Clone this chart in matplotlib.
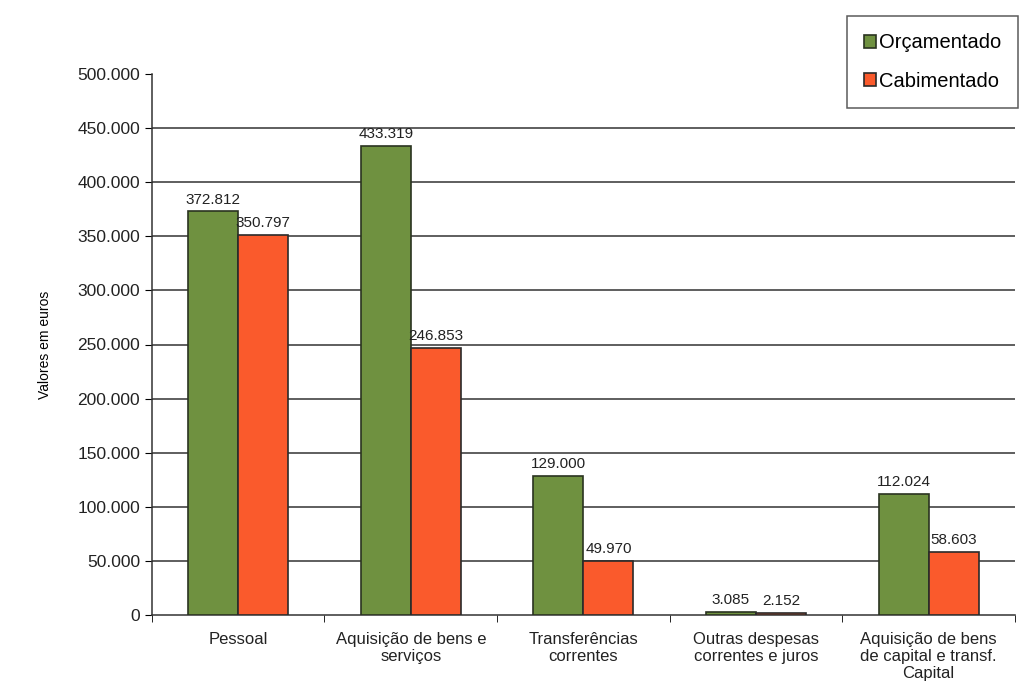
import matplotlib
matplotlib.use("Agg")
import matplotlib.pyplot as plt
import numpy as np

plt.rcParams['font.family'] = ['Liberation Sans', 'DejaVu Sans']

categorias = ['Pessoal', 'Aquisição de bens e\nserviços', 'Transferências\ncorrentes',
              'Outras despesas\ncorrentes e juros', 'Aquisição de bens\nde capital e transf.\nCapital']
orcamentado = [372812, 433319, 129000, 3085, 112024]
cabimentado = [350797, 246853, 49970, 2152, 58603]
yticks = np.arange(0, 500001, 50000)


def fmt(v):
    return '{:,}'.format(v).replace(',', '.')


fig = plt.figure(figsize=(10.19, 6.89), dpi=100)
ax = fig.add_axes([0.149, 0.107, 0.847, 0.786])

x = np.arange(len(categorias))
w = 0.29
b1 = ax.bar(x - w / 2, orcamentado, w, color='#6f9140', edgecolor='#2a3320', linewidth=1.2,
            label='Orçamentado', zorder=3)
b2 = ax.bar(x + w / 2, cabimentado, w, color='#fa5a2c', edgecolor='#2a2a2a', linewidth=1.2,
            label='Cabimentado', zorder=3)

for bars, vals in ((b1, orcamentado), (b2, cabimentado)):
    for r, v in zip(bars, vals):
        ax.text(r.get_x() + r.get_width() / 2, v + 4500, fmt(v), ha='center', va='bottom',
                fontsize=11, color='#222222')

ax.set_xlim(-0.5, len(categorias) - 0.5)
ax.set_ylim(0, 500000)
ax.set_yticks(yticks)
ax.set_yticklabels([fmt(v) for v in yticks], fontsize=12.5, color='#222222')
for v in yticks[1:-1]:
    ax.axhline(v, color='#333333', linewidth=1.1, zorder=1)

ax.set_xticks(x)
ax.set_xticklabels(categorias, fontsize=12, color='#222222', linespacing=1.15)
ax.tick_params(axis='x', length=0, pad=12)
ax.set_xticks(np.arange(-0.5, len(categorias)), minor=True)
ax.tick_params(axis='x', which='minor', length=5, direction='out')
ax.tick_params(axis='y', length=5, direction='out')

ax.spines['top'].set_visible(False)
ax.spines['right'].set_visible(False)
for s in ('left', 'bottom'):
    ax.spines[s].set_color('#333333')
    ax.spines[s].set_linewidth(1.1)

ax.set_ylabel('Valores em euros', fontsize=10, labelpad=18)

leg = fig.legend(loc='upper right', bbox_to_anchor=(1.005, 0.985), fontsize=14.5,
                 frameon=True, fancybox=False, edgecolor='#333333', handlelength=0.6,
                 handleheight=0.6, handletextpad=0.12, borderpad=0.85, labelspacing=0.95,
                 borderaxespad=0.3)
leg.get_frame().set_linewidth(1.1)

fig.savefig('out.png', dpi=100)
